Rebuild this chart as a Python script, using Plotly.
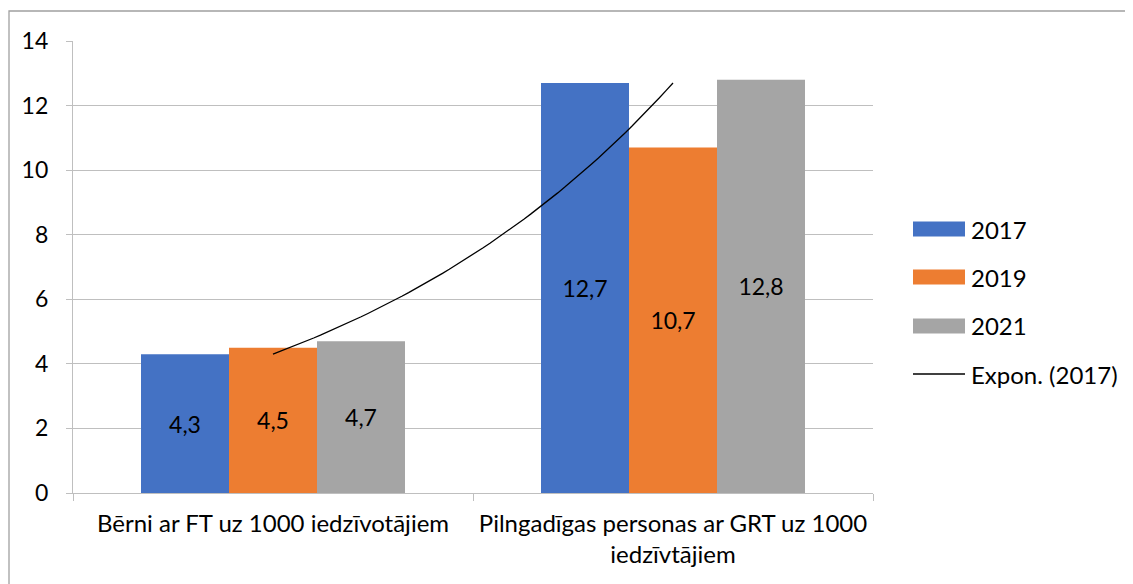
import numpy as np
import plotly.graph_objects as go

categories = ["Bērni ar FT uz 1000 iedzīvotājiem",
              "Pilngadīgas personas ar GRT uz 1000<br>iedzīvtājiem"]
years = ["2017", "2019", "2021"]
values_2017 = [4.3, 12.7]
values_2019 = [4.5, 10.7]
values_2021 = [4.7, 12.8]
colors = ["#4472C4", "#ED7D31", "#A5A5A5"]
y_ticks = [0, 2, 4, 6, 8, 10, 12, 14]
trend_name = "Expon. (2017)"

FONT = "Lato"
FS = 23
FS_BIG = 24
series = [values_2017, values_2019, values_2021]

fig = go.Figure()
for name, vals, col in zip(years, series, colors):
    fig.add_trace(go.Bar(
        x=categories, y=vals, name=name, marker=dict(color=col, line=dict(width=0)),
        texttemplate="%{y:.1f}", textposition="inside", insidetextanchor="middle",
        textfont=dict(family=FONT, size=FS, color="#000000"),
        showlegend=False, hoverinfo="skip"))

# Exponential trendline for 2017 (least-squares fit of ln(y) vs index)
idx = np.arange(1, len(values_2017) + 1)
b, ln_a = np.polyfit(idx, np.log(values_2017), 1)
t = np.linspace(idx[0], idx[-1], 60)
trend = np.exp(ln_a) * np.exp(b * t)
fig.add_trace(go.Scatter(x=t - 1, y=trend, mode="lines", xaxis="x2",
                         line=dict(color="#000000", width=1.3),
                         showlegend=False, hoverinfo="skip"))

OFF = 8  # page body margin
L, R, T, B = 73, 873, 41, 493
W, H = 1133 - OFF, 584 - OFF
def px(x):
    return (x - L) / (R - L)
def py(y):
    return (B - y) / (B - T)

shapes = [dict(type="rect", xref="paper", yref="paper",
               x0=px(9), x1=px(1200), y0=py(11), y1=py(700),
               line=dict(color="#A0A0A0", width=1.3), fillcolor="rgba(0,0,0,0)", layer="below")]
annotations = []
legend_rows = [229, 277, 326, 374]
for i, (name, col) in enumerate(zip(years, colors)):
    yc = legend_rows[i]
    shapes.append(dict(type="rect", xref="paper", yref="paper",
                       x0=px(913), x1=px(965), y0=py(yc + 7.5), y1=py(yc - 7.5),
                       fillcolor=col, line=dict(width=0)))
    annotations.append(dict(x=px(969), y=py(yc), xref="paper", yref="paper", text=name,
                            showarrow=False, xanchor="left", yanchor="middle",
                            font=dict(family=FONT, size=FS_BIG, color="#000000")))
yc = legend_rows[3]
shapes.append(dict(type="line", xref="paper", yref="paper",
                   x0=px(913), x1=px(965), y0=py(yc), y1=py(yc),
                   line=dict(color="#000000", width=1.3)))
annotations.append(dict(x=px(969), y=py(yc), xref="paper", yref="paper", text=trend_name,
                        showarrow=False, xanchor="left", yanchor="middle",
                        font=dict(family=FONT, size=FS_BIG, color="#000000")))

fig.update_layout(
    width=W, height=H,
    margin=dict(l=L - OFF, r=W - (R - OFF), t=T - OFF, b=H - (B - OFF), pad=0),
    paper_bgcolor="white", plot_bgcolor="white",
    barmode="group", bargap=0.34, bargroupgap=0,
    separators=",.",
    font=dict(family=FONT, size=FS, color="#000000"),
    xaxis=dict(type="category", tickson="boundaries", ticks="outside", ticklen=7,
               tickcolor="#BFBFBF", showline=True, linecolor="#BFBFBF", linewidth=1.3,
               showgrid=False, tickfont=dict(family=FONT, size=FS_BIG, color="#000000"),
               range=[-0.5, 1.5], ticklabelstandoff=9),
    xaxis2=dict(overlaying="x", range=[-0.5, 1.5], visible=False),
    yaxis=dict(range=[0, 14], tickvals=y_ticks, ticks="outside", ticklen=6,
               tickcolor="#BFBFBF", showline=True, linecolor="#BFBFBF", linewidth=1.3,
               showgrid=True, gridcolor="#BFBFBF", gridwidth=1.3, zeroline=False,
               tickfont=dict(family=FONT, size=FS, color="#000000"), ticklabelstandoff=13),
    shapes=shapes, annotations=annotations,
)
fig.write_html("out.html")
